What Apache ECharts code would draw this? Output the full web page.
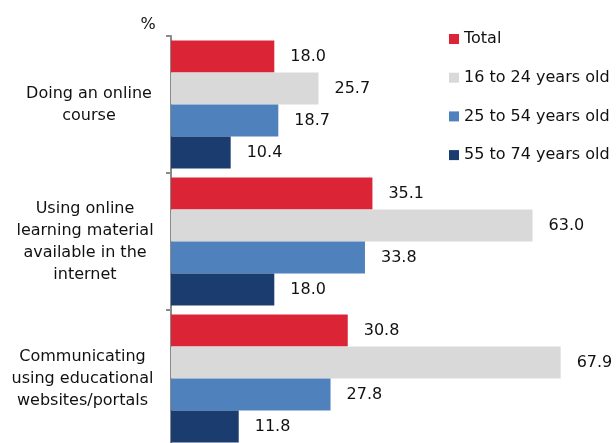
<!DOCTYPE html>
<html>
<head>
<meta charset="utf-8">
<script src="https://cdn.jsdelivr.net/npm/echarts@6/dist/echarts.min.js"></script>
<style>
  html, body { margin: 0; padding: 0; background: #fff; }
  #chart { width: 616px; height: 443px; }
</style>
</head>
<body>
<div id="chart"></div>
<script>
// Online learning activities by age group (%)
const categories = [
  'Doing an online\ncourse',
  'Using online\nlearning material\navailable in the\ninternet',
  'Communicating\nusing educational\nwebsites/portals'
];
const seriesNames = ['Total', '16 to 24 years old', '25 to 54 years old', '55 to 74 years old'];
const total = [18.0, 35.1, 30.8];
const age16to24 = [25.7, 63.0, 67.9];
const age25to54 = [18.7, 33.8, 27.8];
const age55to74 = [10.4, 18.0, 11.8];

const colors = ['#DC2437', '#D9D9D9', '#4F81BD', '#1B3C6E'];
const values = [total, age16to24, age25to54, age55to74];
const FONT = 'DejaVu Sans';
const TEXT = '#111111';

// each category label is a block whose lines are centred on its widest line
const blockWidths = [130, 138, 143];
const richStyles = {};
blockWidths.forEach((w, i) => {
  richStyles['c' + i] = {
    width: w, align: 'center', fontFamily: FONT, fontSize: 16,
    color: TEXT, lineHeight: 22
  };
});

const chart = echarts.init(document.getElementById('chart'), null, { renderer: 'canvas' });

chart.setOption({
  animation: false,
  backgroundColor: '#ffffff',
  textStyle: { fontFamily: FONT },
  legend: {
    orient: 'vertical',
    left: 449,
    top: 31,
    padding: 0,
    itemWidth: 10,
    itemHeight: 10,
    itemGap: 22.7,
    itemTextGap: 5,
    icon: 'rect',
    textStyle: { fontFamily: FONT, fontSize: 16, color: TEXT, lineHeight: 16 },
    data: seriesNames
  },
  grid: { left: 171, top: 36, width: 401.7, height: 411, containLabel: false, outerBoundsMode: 'none' },
  xAxis: {
    type: 'value',
    min: 0,
    max: 70,
    show: false
  },
  yAxis: {
    type: 'category',
    inverse: true,
    data: categories,
    name: '%',
    nameLocation: 'start',
    nameGap: 3,
    nameTextStyle: { fontFamily: FONT, fontSize: 16, color: TEXT, align: 'center', padding: [0, 0, 0, -46] },
    axisLine: { show: true, lineStyle: { color: '#8a8a8a', width: 2 } },
    axisTick: { show: true, length: 5, lineStyle: { color: '#8a8a8a', width: 2 } },
    axisLabel: {
      fontFamily: FONT,
      fontSize: 16,
      color: TEXT,
      lineHeight: 22,
      margin: 17,
      formatter: (value, index) =>
        value.split('\n').map(line => '{c' + index + '|' + line + '}').join('\n'),
      rich: richStyles
    }
  },
  series: seriesNames.map((name, i) => ({
    name: name,
    type: 'bar',
    data: values[i],
    barWidth: 32,
    barGap: '0%',
    itemStyle: { color: colors[i] },
    label: {
      show: true,
      position: 'right',
      distance: 16,
      fontFamily: FONT,
      fontSize: 16,
      color: TEXT,
      formatter: p => p.value.toFixed(1)
    }
  }))
});
</script>
</body>
</html>
